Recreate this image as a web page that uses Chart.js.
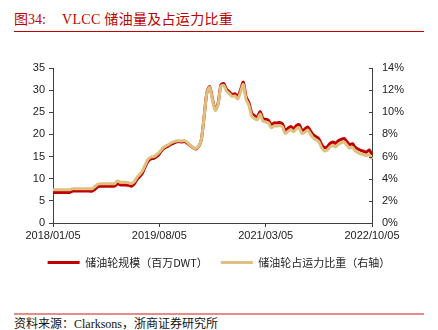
<!DOCTYPE html>
<html>
<head>
<meta charset="utf-8">
<script src="https://cdn.jsdelivr.net/npm/chart.js@4.4.0/dist/chart.umd.min.js"></script>
<style>
  html, body { margin: 0; padding: 0; background: #fff; }
  body { width: 438px; height: 330px; position: relative; overflow: hidden; }
  .title { position: absolute; top: 8px; font-size: 14px; color: #c00000; white-space: pre;
           font-family: "Liberation Serif", "Noto Sans CJK SC", serif; }
  #title1 { left: 14px; }
  #title2 { left: 62px; letter-spacing: 0.3px; }
  #rule1 { position: absolute; left: 14px; top: 31px; width: 410px; height: 1px; background: #c00000; }
  #rule2 { position: absolute; left: 14px; top: 313px; width: 410px; height: 2px; background: #e68a8a; }
  #source { position: absolute; left: 14px; top: 314px; font-size: 12px; color: #111; white-space: pre;
            font-family: "Liberation Serif", "Noto Sans CJK SC", serif; }
  #wrap { position: absolute; left: 0; top: 40px; width: 438px; height: 238px; }
</style>
</head>
<body>
<div class="title" id="title1">图34:</div>
<div class="title" id="title2">VLCC 储油量及占运力比重</div>
<div id="rule1"></div>
<div id="wrap"><canvas id="myChart"></canvas></div>
<div id="rule2"></div>
<div id="source">资料来源：Clarksons，浙商证券研究所</div>
<script>
// half-month points from 2018/01/05 to 2022/10/05
let dates = [];
for (let m = 0; m <= 57; m++) {
    let y = 2018 + Math.floor(m / 12);
    let mo = String(m % 12 + 1).padStart(2, '0');
    dates.push(y + '/' + mo + '/05');
    if (m < 57) dates.push(y + '/' + mo + '/20');
}
const tickLabels = ['2018/01/05', '2019/08/05', '2021/03/05', '2022/10/05'];

// 储油轮规模（百万DWT）
const storageDwt = [
    6.9, 6.9, 6.9, 6.9, 6.9, 6.9, 6.9, 7.2, 7.2, 7.2,
    7.2, 7.2, 7.2, 7.2, 7.2, 7.6, 8.2, 8.3, 8.3, 8.3,
    8.3, 8.3, 8.3, 8.9, 8.6, 8.6, 8.6, 8.5, 8.3, 8.8,
    9.8, 10.5, 11.3, 12.8, 14.0, 14.5, 14.6, 15.0, 15.6, 16.5,
    17.0, 17.3, 17.7, 18.0, 18.3, 18.4, 18.3, 18.4, 18.0, 17.5,
    17.0, 16.7, 17.2, 18.8, 24.0, 29.5, 30.8, 28.0, 25.6, 27.0,
    31.2, 31.5, 30.2, 29.6, 29.0, 29.2, 28.5, 30.0, 31.8, 28.5,
    27.2, 24.8, 24.2, 23.9, 25.2, 23.6, 23.4, 23.2, 22.2, 22.6,
    22.6, 22.7, 22.4, 20.9, 21.4, 21.8, 21.3, 22.0, 22.2, 20.9,
    21.2, 21.7, 20.8, 19.9, 19.5, 19.0, 17.7, 17.0, 17.2, 18.0,
    18.3, 18.0, 18.6, 18.9, 19.1, 18.4, 17.7, 17.9, 17.1, 16.7,
    16.4, 16.2, 16.0, 16.5, 15.4
];
// 储油轮占运力比重（右轴，%）
const storageShare = [
    3.0, 3.0, 3.0, 3.0, 3.0, 3.0, 3.0, 3.1, 3.1, 3.1,
    3.1, 3.1, 3.1, 3.1, 3.1, 3.3, 3.5, 3.55, 3.55, 3.55,
    3.55, 3.55, 3.55, 3.8, 3.68, 3.68, 3.68, 3.64, 3.56, 3.72,
    4.12, 4.4, 4.72, 5.28, 5.76, 5.96, 6.0, 6.16, 6.4, 6.72,
    6.92, 7.04, 7.2, 7.32, 7.4, 7.44, 7.4, 7.44, 7.28, 7.04,
    6.84, 6.72, 6.92, 7.52, 9.6, 11.76, 12.24, 11.12, 10.16, 10.72,
    12.36, 12.44, 11.92, 11.68, 11.44, 11.48, 11.2, 11.8, 12.52, 11.16,
    10.64, 9.68, 9.44, 9.32, 9.84, 9.2, 9.12, 9.04, 8.6, 8.76,
    8.76, 8.8, 8.68, 8.08, 8.28, 8.44, 8.24, 8.52, 8.6, 8.08,
    8.2, 8.4, 8.04, 7.68, 7.52, 7.32, 6.8, 6.52, 6.6, 6.88,
    7.0, 6.88, 7.12, 7.24, 7.32, 7.04, 6.76, 6.84, 6.52, 6.36,
    6.24, 6.16, 6.08, 6.16, 5.76
];

const axisColor = '#404040';
const tickFont = { family: '"Liberation Sans", Arial, sans-serif', size: 11 };

// right axis has its tick marks pointing into the plot
const innerTicks = {
    id: 'innerTicks',
    afterDraw(chart) {
        let scale = chart.scales.y1;
        let ctx = chart.ctx;
        ctx.save();
        ctx.strokeStyle = axisColor;
        ctx.lineWidth = 1;
        for (let t of scale.ticks) {
            let y = Math.round(scale.getPixelForValue(t.value)) + 0.5;
            ctx.beginPath();
            ctx.moveTo(scale.left - 3, y);
            ctx.lineTo(scale.left, y);
            ctx.stroke();
        }
        ctx.restore();
    }
};

let ctx = document.getElementById('myChart').getContext('2d');
let storageChart = new Chart(ctx, {
    type: 'line',
    data: {
        labels: dates,
        datasets: [{
                label: '储油轮规模（百万DWT）',
                data: storageDwt,
                yAxisID: 'y',
                borderColor: '#c00000',
                backgroundColor: '#c00000',
                borderWidth: 3,
                pointRadius: 0,
                tension: 0.25,
                order: 1
            }, {
                label: '储油轮占运力比重（右轴）',
                data: storageShare,
                yAxisID: 'y1',
                borderColor: '#dfc07e',
                backgroundColor: '#dfc07e',
                borderWidth: 3,
                pointRadius: 0,
                tension: 0.25,
                order: 0
            }]
    },
    options: {
        animation: false,
        responsive: true,
        maintainAspectRatio: false,
        layout: { padding: { top: 28, left: 0, right: 0, bottom: 0 } },
        plugins: {
            tooltip: { enabled: false },
            legend: {
                position: 'bottom',
                labels: {
                    boxWidth: 32,
                    boxHeight: 3,
                    padding: 13,
                    color: '#222',
                    font: { family: '"Noto Sans CJK SC", sans-serif', size: 11 },
                    sort: (a, b) => a.datasetIndex - b.datasetIndex,
                    generateLabels: (chart) => {
                        let items = Chart.defaults.plugins.legend.labels.generateLabels(chart);
                        for (let item of items) item.lineWidth = 0;
                        return items;
                    }
                }
            }
        },
        scales: {
            x: {
                type: 'category',
                afterBuildTicks: (scale) => {
                    scale.ticks = scale.ticks.filter(t => tickLabels.includes(dates[t.value]));
                },
                afterFit: (scale) => { scale.height = 21; },
                ticks: { autoSkip: false, maxRotation: 0, padding: 2, color: '#222', font: tickFont },
                grid: { drawOnChartArea: false, drawTicks: true, tickLength: 4, color: axisColor },
                border: { color: axisColor, width: 1 }
            },
            y: {
                position: 'left',
                min: 0,
                max: 35,
                afterFit: (scale) => { scale.width = 53; },
                ticks: { stepSize: 5, padding: 4, color: '#222', font: tickFont },
                grid: { drawOnChartArea: false, drawTicks: true, tickLength: 4, color: axisColor },
                border: { color: axisColor, width: 1 }
            },
            y1: {
                position: 'right',
                min: 0,
                max: 14,
                afterFit: (scale) => { scale.width = 66; },
                ticks: { stepSize: 2, padding: 10, color: '#222', font: tickFont, callback: (v) => v + '%' },
                grid: { drawOnChartArea: false, drawTicks: false },
                border: { color: axisColor, width: 1 }
            }
        }
    },
    plugins: [innerTicks]
});
</script>
</body>
</html>
